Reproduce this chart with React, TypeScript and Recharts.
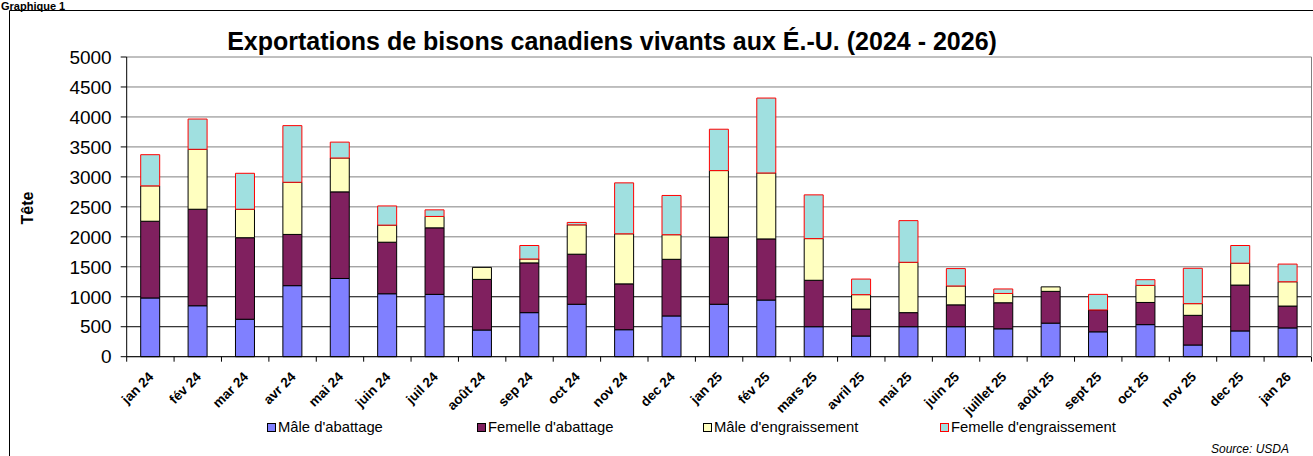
import { Bar, BarChart, CartesianGrid, Legend, XAxis, YAxis } from 'recharts';

const months = [
  'jan 24', 'fév 24', 'mar 24', 'avr 24', 'mai 24', 'juin 24', 'juil 24', 'août 24', 'sep 24',
  'oct 24', 'nov 24', 'dec 24', 'jan 25', 'fév 25', 'mars 25', 'avril 25', 'mai 25', 'juin 25',
  'juillet 25', 'août 25', 'sept 25', 'oct 25', 'nov 25', 'dec 25', 'jan 26',
];

const maleAbattage = [980, 850, 625, 1185, 1305, 1050, 1040, 445, 735, 875, 450, 680, 875, 945, 500, 345, 500, 500, 465, 560, 415, 535, 195, 430, 480];
const femelleAbattage = [1280, 1610, 1360, 855, 1445, 860, 1110, 845, 830, 835, 765, 945, 1120, 1020, 775, 450, 235, 365, 435, 530, 365, 370, 495, 765, 365];
const maleEngraissement = [590, 1000, 475, 870, 565, 285, 190, 200, 65, 490, 835, 410, 1110, 1100, 695, 240, 840, 315, 155, 75, 0, 285, 195, 365, 405];
const femelleEngraissement = [520, 505, 600, 945, 265, 320, 110, 0, 225, 40, 850, 655, 690, 1250, 730, 260, 695, 290, 75, 0, 260, 95, 590, 295, 295];

const yTicks = [0, 500, 1000, 1500, 2000, 2500, 3000, 3500, 4000, 4500, 5000];

const series = [
  { key: 'maleAbattage', name: "Mâle d'abattage", fill: '#8080FF', stroke: '#000' },
  { key: 'femelleAbattage', name: "Femelle d'abattage", fill: '#80205F', stroke: '#000' },
  { key: 'maleEngraissement', name: "Mâle d'engraissement", fill: '#FFFFC0', stroke: '#000' },
  { key: 'femelleEngraissement', name: "Femelle d'engraissement", fill: '#A0E0E0', stroke: '#FF0000' },
];

const data = months.map((month, i) => ({
  month,
  maleAbattage: maleAbattage[i],
  femelleAbattage: femelleAbattage[i],
  maleEngraissement: maleEngraissement[i],
  femelleEngraissement: femelleEngraissement[i],
}));

const W = 1313;
const H = 456;
const LEFT = 126.7;
const RIGHT = 1.5;
const HALF_BAND = (W - RIGHT - LEFT) / months.length / 2;
const FONT = '"Liberation Sans", Arial, sans-serif';

const XTick = (props: any) => {
  const { x, y, payload, index } = props;
  const tx = x + 4;
  const ty = y + 21;
  return (
    <g>
      <line x1={x - HALF_BAND} y1={y} x2={x - HALF_BAND} y2={y + 5} stroke="#000" />
      {index === months.length - 1 && (
        <line x1={x + HALF_BAND} y1={y} x2={x + HALF_BAND} y2={y + 5} stroke="#000" />
      )}
      <text
        x={tx}
        y={ty}
        transform={`rotate(-45 ${tx} ${ty})`}
        textAnchor="end"
        fontSize={13.5}
        fontWeight="bold"
        fontFamily={FONT}
        fill="#000"
      >
        {payload.value}
      </text>
    </g>
  );
};

const gridLine = (props: any) => {
  const { x1, x2, y1, y2, index } = props;
  const dark = index === 1 || index === 2;
  return <line key={`g${index}`} x1={x1} x2={x2} y1={y1} y2={y2} stroke={dark ? '#000' : '#808080'} />;
};

const legendX = [267, 477, 703, 940];

const LegendContent = () => (
  <div style={{ position: 'relative', height: 18, fontFamily: FONT, fontSize: 14.8 }}>
    {series.map((s, i) => (
      <div
        key={s.key}
        style={{ position: 'absolute', left: legendX[i], top: 0, display: 'flex', alignItems: 'center', whiteSpace: 'nowrap' }}
      >
        <span
          style={{ display: 'inline-block', width: 7, height: 7, background: s.fill, border: `1px solid ${s.stroke}`, marginRight: 2 }}
        />
        <span>{s.name}</span>
      </div>
    ))}
  </div>
);

export default function App() {
  return (
    <div style={{ position: 'absolute', left: 0, top: 0, width: W, height: H, overflow: 'hidden', background: '#fff' }}>
      <BarChart width={W} height={H} data={data} margin={{ top: 57, right: RIGHT, left: 0, bottom: 0 }} barSize={19}>
        <CartesianGrid vertical={false} horizontal={gridLine} />
        <XAxis
          dataKey="month"
          height={99.3}
          interval={0}
          tickSize={0}
          tickMargin={0}
          tickLine={false}
          axisLine={{ stroke: '#000' }}
          tick={<XTick />}
        />
        <YAxis
          width={LEFT}
          domain={[0, 5000]}
          ticks={yTicks}
          interval={0}
          tickSize={6}
          tickMargin={9}
          axisLine={{ stroke: '#000' }}
          tickLine={{ stroke: '#000' }}
          tick={{ fontSize: 19, fill: '#000', fontFamily: FONT }}
        />
        {series.map((s) => (
          <Bar
            key={s.key}
            dataKey={s.key}
            name={s.name}
            stackId="a"
            fill={s.fill}
            stroke={s.stroke}
            strokeWidth={1}
            isAnimationActive={false}
          />
        ))}
        <Legend verticalAlign="middle" content={<LegendContent />} wrapperStyle={{ top: 419, left: 0, width: W }} />
      </BarChart>
      <svg width={W} height={H} style={{ position: 'absolute', left: 0, top: 0, pointerEvents: 'none' }}>
        <path d={`M9.5 ${H} V10.5 H${W}`} fill="none" stroke="#000" />
        <line x1={W - RIGHT} y1={57} x2={W - RIGHT} y2={357} stroke="#808080" />
        <text x={1} y={10} fontSize={11} fontWeight="bold" fontFamily={FONT}>Graphique 1</text>
        <text x={612} y={50} textAnchor="middle" fontSize={25} fontWeight="bold" fontFamily={FONT}>
          Exportations de bisons canadiens vivants aux É.-U. (2024 - 2026)
        </text>
        <text
          x={33}
          y={208}
          transform="rotate(-90 33 208)"
          textAnchor="middle"
          fontSize={16}
          fontWeight="bold"
          fontFamily={FONT}
        >
          Tête
        </text>
        <text x={1289} y={453} textAnchor="end" fontSize={12} fontStyle="italic" fontFamily={FONT}>Source: USDA</text>
      </svg>
    </div>
  );
}
